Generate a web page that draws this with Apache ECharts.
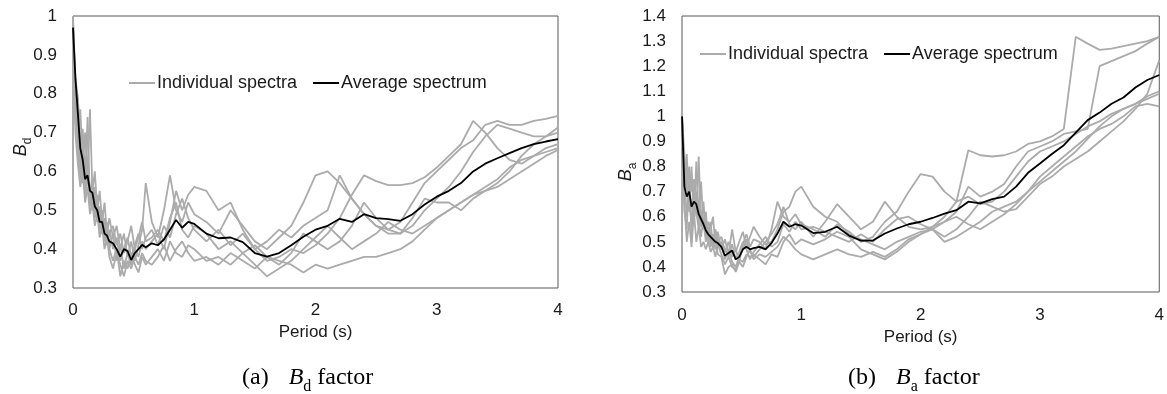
<!DOCTYPE html>
<html>
<head>
<meta charset="utf-8">
<script src="https://cdn.jsdelivr.net/npm/echarts/dist/echarts.min.js"></script>
<style>
html,body{margin:0;padding:0;background:#fff;}
#c{width:1167px;height:394px;}
</style>
</head>
<body>
<div id="c"></div>
<script>
// Period grid (s) shared by all spectra
const periods = [0,0.02,0.04,0.06,0.08,0.10,0.12,0.14,0.16,0.18,0.20,0.22,0.24,0.26,0.28,0.30,
  0.33,0.36,0.39,0.42,0.45,0.48,0.51,0.54,0.57,0.60,
  0.65,0.70,0.75,0.80,0.85,0.90,0.95,1.0,
  1.1,1.2,1.3,1.4,1.5,1.6,1.7,1.8,1.9,2.0,
  2.1,2.2,2.3,2.4,2.5,2.6,2.7,2.8,2.9,3.0,
  3.1,3.2,3.3,3.4,3.5,3.6,3.7,3.8,3.9,4.0];

const xTicks = [0,1,2,3,4];

// ---- (a) Bd factor ----
const bdRec1 = [1.00,0.80,0.68,0.76,0.62,0.70,0.58,0.76,0.55,0.60,0.50,0.55,0.47,0.52,0.44,0.48,
  0.43,0.46,0.40,0.44,0.38,0.42,0.37,0.41,0.45,0.57,
  0.47,0.43,0.50,0.59,0.50,0.47,0.52,0.49,
  0.47,0.44,0.50,0.46,0.42,0.40,0.43,0.46,0.52,0.59,
  0.60,0.57,0.53,0.49,0.46,0.44,0.44,0.46,0.50,0.53,
  0.56,0.60,0.65,0.69,0.72,0.71,0.70,0.69,0.69,0.70];
const bdRec2 = [0.98,0.72,0.79,0.60,0.66,0.56,0.74,0.52,0.58,0.49,0.54,0.46,0.50,0.43,0.47,0.40,
  0.44,0.37,0.41,0.35,0.39,0.36,0.40,0.38,0.42,0.40,
  0.42,0.44,0.40,0.47,0.55,0.50,0.54,0.56,
  0.55,0.50,0.52,0.45,0.40,0.37,0.38,0.40,0.39,0.41,
  0.44,0.48,0.54,0.59,0.575,0.565,0.565,0.57,0.585,0.61,
  0.64,0.67,0.73,0.70,0.66,0.63,0.62,0.64,0.66,0.67];
const bdRec3 = [0.95,0.80,0.70,0.64,0.71,0.57,0.62,0.55,0.50,0.56,0.47,0.51,0.44,0.48,0.42,0.45,
  0.40,0.43,0.37,0.40,0.43,0.38,0.41,0.44,0.40,0.43,
  0.45,0.41,0.46,0.43,0.49,0.53,0.48,0.45,
  0.42,0.45,0.41,0.44,0.40,0.42,0.45,0.43,0.46,0.48,
  0.50,0.59,0.53,0.49,0.46,0.45,0.47,0.52,0.57,0.60,
  0.63,0.66,0.68,0.72,0.73,0.72,0.72,0.73,0.735,0.743];
const bdRec4 = [0.97,0.76,0.66,0.58,0.63,0.54,0.59,0.51,0.55,0.48,0.52,0.45,0.49,0.42,0.46,0.40,
  0.37,0.40,0.33,0.37,0.35,0.39,0.36,0.34,0.38,0.36,
  0.38,0.40,0.37,0.42,0.39,0.38,0.41,0.40,
  0.37,0.38,0.36,0.39,0.36,0.33,0.35,0.37,0.40,0.43,
  0.46,0.43,0.40,0.42,0.44,0.47,0.45,0.44,0.46,0.48,
  0.50,0.52,0.54,0.56,0.58,0.61,0.63,0.64,0.65,0.66];
const bdRec5 = [0.99,0.84,0.79,0.68,0.57,0.64,0.60,0.53,0.57,0.50,0.48,0.50,0.44,0.47,0.41,0.44,
  0.46,0.41,0.44,0.39,0.42,0.46,0.40,0.43,0.47,0.42,
  0.43,0.45,0.42,0.48,0.52,0.45,0.43,0.46,
  0.44,0.40,0.42,0.39,0.41,0.38,0.36,0.39,0.44,0.42,
  0.40,0.42,0.46,0.52,0.48,0.45,0.44,0.48,0.53,0.52,
  0.52,0.50,0.53,0.55,0.57,0.60,0.64,0.67,0.69,0.713];
const bdRec6 = [0.94,0.70,0.62,0.56,0.60,0.52,0.56,0.49,0.52,0.46,0.49,0.43,0.46,0.40,0.43,0.38,
  0.35,0.39,0.36,0.33,0.37,0.35,0.38,0.36,0.39,0.37,
  0.36,0.38,0.41,0.37,0.40,0.42,0.39,0.37,
  0.38,0.36,0.39,0.37,0.35,0.38,0.37,0.36,0.34,0.36,
  0.35,0.36,0.37,0.38,0.38,0.39,0.40,0.42,0.45,0.48,
  0.50,0.52,0.54,0.55,0.56,0.58,0.60,0.62,0.64,0.655];
const bdAverage = [0.97,0.84,0.75,0.66,0.63,0.58,0.59,0.55,0.545,0.51,0.50,0.47,0.47,0.44,0.435,0.42,
  0.415,0.40,0.381,0.40,0.395,0.372,0.39,0.40,0.411,0.405,
  0.415,0.41,0.425,0.45,0.475,0.455,0.47,0.465,
  0.44,0.428,0.43,0.418,0.39,0.381,0.39,0.41,0.432,0.45,
  0.46,0.478,0.47,0.49,0.48,0.477,0.473,0.49,0.515,0.535,
  0.55,0.57,0.60,0.62,0.634,0.647,0.66,0.67,0.677,0.683];
const bdTicks = [0.3,0.4,0.5,0.6,0.7,0.8,0.9,1.0];

// ---- (b) Ba factor ----
const baRec1 = [1.03,0.70,0.85,0.62,0.80,0.58,0.82,0.60,0.74,0.55,0.62,0.50,0.58,0.48,0.55,0.50,
  0.52,0.46,0.50,0.44,0.47,0.42,0.49,0.53,0.48,0.51,
  0.50,0.47,0.55,0.66,0.60,0.58,0.61,0.57,
  0.55,0.52,0.57,0.54,0.50,0.52,0.58,0.62,0.70,0.77,
  0.76,0.70,0.66,0.68,0.65,0.66,0.70,0.76,0.82,0.86,
  0.88,0.90,0.93,0.96,0.98,1.01,1.03,1.05,1.08,1.10];
const baRec2 = [0.98,0.62,0.55,0.78,0.52,0.72,0.60,0.84,0.56,0.66,0.52,0.58,0.55,0.60,0.49,0.54,
  0.47,0.51,0.45,0.55,0.46,0.50,0.54,0.48,0.52,0.56,
  0.52,0.49,0.50,0.55,0.62,0.64,0.70,0.72,
  0.64,0.60,0.58,0.53,0.51,0.49,0.47,0.50,0.52,0.54,
  0.55,0.52,0.55,0.60,0.66,0.64,0.62,0.63,0.68,0.73,
  0.76,0.80,0.83,0.86,0.90,0.94,0.98,1.03,1.09,1.224];
const baRec3 = [1.00,0.85,0.72,0.66,0.58,0.68,0.62,0.55,0.62,0.58,0.50,0.56,0.48,0.52,0.47,0.50,
  0.49,0.43,0.47,0.42,0.40,0.44,0.47,0.51,0.46,0.44,
  0.47,0.50,0.53,0.57,0.64,0.57,0.55,0.58,
  0.52,0.58,0.65,0.60,0.55,0.58,0.66,0.60,0.56,0.55,
  0.56,0.60,0.66,0.865,0.845,0.84,0.845,0.86,0.89,0.90,
  0.92,0.95,1.317,1.29,1.265,1.27,1.28,1.29,1.30,1.317];
const baRec4 = [0.99,0.76,0.60,0.72,0.64,0.61,0.70,0.58,0.52,0.60,0.55,0.51,0.54,0.47,0.52,0.45,
  0.44,0.37,0.40,0.41,0.38,0.42,0.40,0.44,0.47,0.43,
  0.45,0.44,0.46,0.48,0.52,0.50,0.47,0.45,
  0.43,0.45,0.47,0.45,0.44,0.46,0.44,0.47,0.51,0.53,
  0.56,0.58,0.62,0.72,0.68,0.70,0.73,0.80,0.86,0.88,
  0.90,0.93,0.94,0.95,1.20,1.22,1.24,1.26,1.29,1.317];
const baRec5 = [1.01,0.68,0.74,0.80,0.70,0.75,0.66,0.62,0.58,0.55,0.58,0.54,0.50,0.53,0.51,0.48,
  0.50,0.47,0.44,0.49,0.43,0.46,0.50,0.47,0.43,0.46,
  0.49,0.52,0.48,0.50,0.57,0.54,0.58,0.55,
  0.56,0.54,0.52,0.50,0.53,0.50,0.55,0.59,0.60,0.57,
  0.55,0.50,0.52,0.55,0.58,0.62,0.64,0.66,0.70,0.74,
  0.78,0.82,0.86,0.91,0.96,1.00,1.03,1.05,1.07,1.09];
const baRec6 = [0.97,0.66,0.50,0.58,0.48,0.62,0.50,0.56,0.48,0.50,0.47,0.50,0.46,0.48,0.44,0.49,
  0.45,0.41,0.44,0.40,0.39,0.43,0.42,0.45,0.44,0.45,
  0.43,0.41,0.45,0.44,0.50,0.53,0.49,0.51,
  0.49,0.51,0.54,0.52,0.47,0.45,0.43,0.46,0.50,0.53,
  0.55,0.58,0.60,0.57,0.55,0.58,0.61,0.65,0.70,0.76,
  0.80,0.84,0.88,0.92,0.95,0.97,1.00,1.04,1.05,1.04];
const baAverage = [1.0,0.72,0.68,0.70,0.64,0.66,0.65,0.61,0.59,0.57,0.545,0.53,0.52,0.51,0.50,0.495,
  0.48,0.445,0.455,0.465,0.43,0.44,0.47,0.48,0.47,0.475,
  0.48,0.47,0.495,0.533,0.58,0.56,0.57,0.565,
  0.535,0.54,0.56,0.525,0.505,0.505,0.533,0.553,0.57,0.58,
  0.595,0.612,0.626,0.66,0.653,0.67,0.68,0.72,0.775,0.812,
  0.85,0.885,0.935,0.985,1.015,1.05,1.075,1.115,1.145,1.165];
const baTicks = [0.3,0.4,0.5,0.6,0.7,0.8,0.9,1.0,1.1,1.2,1.3,1.4];

const legendNames = ['Individual spectra','Average spectrum'];

// ---------- build ----------
const SANS = 'Liberation Sans, Arial, sans-serif';
const SERIF = 'Liberation Serif, Times New Roman, serif';
const GRAY = '#ababab';
const pairs = vals => periods.map((t, i) => [t, vals[i]]);

function recSeries(vals, gi) {
  return {type:'line', name: legendNames[0], xAxisIndex: gi, yAxisIndex: gi,
    data: pairs(vals), showSymbol:false, symbol:'none', z: 2,
    lineStyle:{color: GRAY, width: 1.8}, itemStyle:{color: GRAY}};
}
function avgSeries(vals, gi) {
  return {type:'line', name: legendNames[1], xAxisIndex: gi, yAxisIndex: gi,
    data: pairs(vals), showSymbol:false, symbol:'none', z: 5,
    lineStyle:{color:'#000', width: 1.8}, itemStyle:{color:'#000'}};
}

const series = [];
[bdRec1,bdRec2,bdRec3,bdRec4,bdRec5,bdRec6].forEach(v => series.push(recSeries(v, 0)));
series.push(avgSeries(bdAverage, 0));
[baRec1,baRec2,baRec3,baRec4,baRec5,baRec6].forEach(v => series.push(recSeries(v, 1)));
series.push(avgSeries(baAverage, 1));

function xAx(gi, gap, margin) {
  return {gridIndex: gi, type:'value', min: xTicks[0], max: xTicks[xTicks.length-1], interval: 1,
    axisLine:{show:false}, axisTick:{show:false}, splitLine:{show:false},
    axisLabel:{margin: margin, fontSize:17, color:'#1a1a1a', fontFamily:SANS, showMinLabel:true, showMaxLabel:true},
    name:'Period (s)', nameLocation:'middle', nameGap: gap,
    nameTextStyle:{fontSize:17, color:'#1a1a1a', fontFamily:SANS}};
}
function yAx(gi, ticks) {
  return {gridIndex: gi, type:'value', min: ticks[0], max: ticks[ticks.length-1], interval: 0.1,
    axisLine:{show:false}, axisTick:{show:false}, splitLine:{show:false},
    axisLabel:{margin: 16, fontSize:17, color:'#1a1a1a', fontFamily:SANS, showMinLabel:true, showMaxLabel:true}};
}

function legendAt(left, top) {
  return {left: left, top: top, icon:'rect', itemWidth: 26, itemHeight: 2, itemGap: 16, orient:'horizontal',
    data: legendNames, selectedMode: false,
    textStyle:{fontSize: 18, color:'#1a1a1a', fontFamily: SANS, padding:[0,0,0,-3]}};
}

const richY = {
  b:{fontSize:18, fontStyle:'italic', fontFamily:SANS, lineHeight:18, verticalAlign:'middle', fill:'#1a1a1a'},
  s:{fontSize:12, fontFamily:SANS, lineHeight:26, verticalAlign:'bottom', fill:'#1a1a1a'}
};
const richCap = {
  n:{fontSize:24, fontFamily:SERIF, lineHeight:24, verticalAlign:'middle', fill:'#000'},
  gap:{width:20, fontSize:24, lineHeight:24},
  i:{fontSize:24, fontFamily:SERIF, fontStyle:'italic', lineHeight:24, verticalAlign:'middle', fill:'#000'},
  s:{fontSize:16, fontFamily:SERIF, lineHeight:34, verticalAlign:'bottom', fill:'#000'}
};

const option = {
  animation: false,
  backgroundColor: '#fff',
  grid: [
    {left: 73, top: 16, width: 485, height: 272, show: true, borderColor:'#595959', borderWidth: 1, backgroundColor:'transparent'},
    {left: 682, top: 16, width: 479, height: 276, show: true, borderColor:'#595959', borderWidth: 1, backgroundColor:'transparent'}
  ],
  xAxis: [xAx(0, 36, 14), xAx(1, 32, 15)],
  yAxis: [yAx(0, bdTicks), yAx(1, baTicks)],
  legend: [legendAt(124, 69), legendAt(695, 40)],
  series: series,
  graphic: [
    {type:'text', x: 21, y: 147, rotation: Math.PI/2,
      style:{text:'{b|B}{s|d}', rich: richY, align:'center', verticalAlign:'middle'}},
    {type:'text', x: 626, y: 172, rotation: Math.PI/2,
      style:{text:'{b|B}{s|a}', rich: richY, align:'center', verticalAlign:'middle'}},
    {type:'text', x: 242, y: 378,
      style:{text:'{n|(a)}{gap|}{i|B}{s|d}{n| factor}', rich: richCap, align:'left', verticalAlign:'middle'}},
    {type:'text', x: 848, y: 378,
      style:{text:'{n|(b)}{gap|}{i|B}{s|a}{n| factor}', rich: richCap, align:'left', verticalAlign:'middle'}}
  ]
};

const chart = echarts.init(document.getElementById('c'), null, {renderer:'canvas'});
chart.setOption(option);
</script>
</body>
</html>
